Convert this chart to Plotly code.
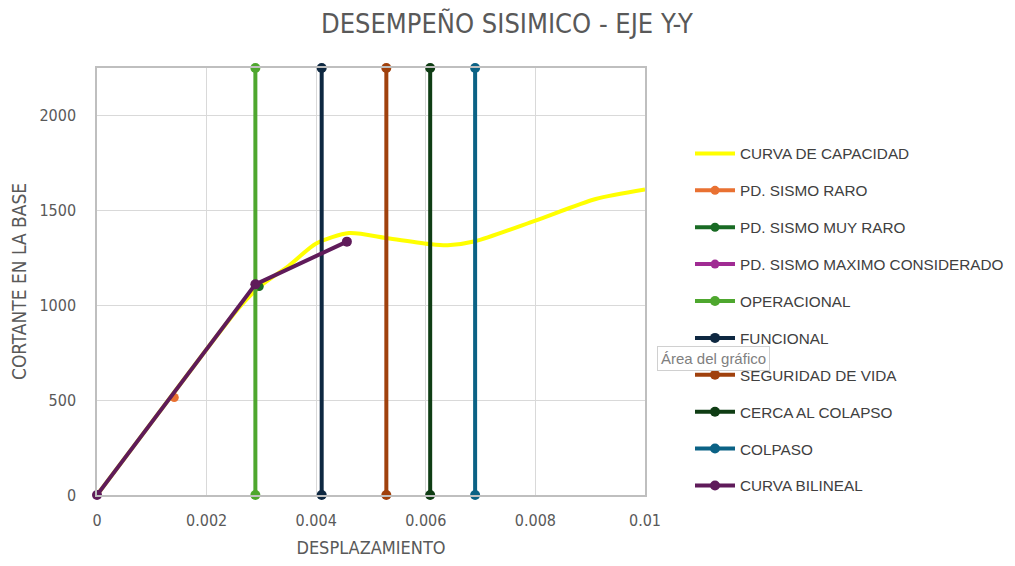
import plotly.graph_objects as go

# Capacity curve (pushover)
cap_x = [0, 0.001, 0.002, 0.0026, 0.003, 0.0035, 0.004, 0.0046, 0.0053, 0.0061, 0.0064, 0.0069, 0.008, 0.0091, 0.01]
cap_y = [0, 384, 768, 990, 1105, 1208, 1325, 1380, 1353, 1321, 1316, 1337, 1446, 1560, 1610]

# Performance points
raro_x, raro_y = [0.00141], [514]
muyraro_x, muyraro_y = [0.00296], [1098]
mce_x, mce_y = [0.00289], [1110]

# Performance levels (vertical lines)
level_names = ["OPERACIONAL", "FUNCIONAL", "SEGURIDAD DE VIDA", "CERCA AL COLAPSO", "COLPASO"]
level_x = [0.00289, 0.0041, 0.00528, 0.00608, 0.0069]
level_y = [0, 2250]

# Bilinear curve
bil_x = [0, 0.00289, 0.00456]
bil_y = [0, 1110, 1335]

x_ticks = [0, 0.002, 0.004, 0.006, 0.008, 0.01]
x_labels = ["0", "0.002", "0.004", "0.006", "0.008", "0.01"]
y_ticks = [0, 500, 1000, 1500, 2000]

level_colors = ["#4EA72E", "#0E2841", "#A0410D", "#0F3D14", "#0B6285"]

FONT = "Liberation Sans Narrow, DejaVu Sans Condensed, Arial Narrow, sans-serif"
LFONT = "Liberation Sans, Arial, sans-serif"

# page body has an 8px default margin; figure is laid out accordingly
OFF = 8
PL, PR, PT, PB = 97 - OFF, 645 - OFF, 68 - OFF, 495 - OFF

fig = go.Figure()
fig.add_trace(go.Scatter(x=cap_x, y=cap_y, mode="lines", name="CURVA DE CAPACIDAD",
                         line=dict(color="#FFFF00", width=4, shape="spline", smoothing=0.7),
                         legendgroup="a"))
fig.add_trace(go.Scatter(x=raro_x, y=raro_y, mode="lines+markers", name="PD. SISMO RARO",
                         line=dict(color="#E97132", width=4), marker=dict(size=9),
                         legendgroup="b"))
fig.add_trace(go.Scatter(x=muyraro_x, y=muyraro_y, mode="lines+markers", name="PD. SISMO MUY RARO",
                         line=dict(color="#196B24", width=4), marker=dict(size=9),
                         legendgroup="c"))
fig.add_trace(go.Scatter(x=mce_x, y=mce_y, mode="lines+markers", name="PD. SISMO MAXIMO CONSIDERADO",
                         line=dict(color="#A02B93", width=4), marker=dict(size=9),
                         legendgroup="d"))
for i, (nm, lx, col) in enumerate(zip(level_names, level_x, level_colors)):
    fig.add_trace(go.Scatter(x=[lx, lx], y=level_y, mode="lines+markers", name=nm,
                             line=dict(color=col, width=4), marker=dict(size=10),
                             legendgroup="l%d" % i, cliponaxis=False))
fig.add_trace(go.Scatter(x=bil_x, y=bil_y, mode="lines+markers", name="CURVA BILINEAL",
                         line=dict(color="#5F1B5A", width=4), marker=dict(size=10),
                         legendgroup="z", cliponaxis=False))

fig.update_layout(
    width=1015, height=566,
    margin=dict(l=PL, r=1015 - PR, t=PT, b=566 - PB, autoexpand=False),
    paper_bgcolor="white", plot_bgcolor="white",
    font=dict(family=FONT, size=15, color="#595959"),
    title=dict(text="DESEMPEÑO SISIMICO - EJE Y-Y", x=(507 - OFF) / 1015, xref="container",
               y=1 - (24 - OFF) / 566, yref="container", yanchor="middle", xanchor="center",
               font=dict(family=FONT, size=27, color="#595959")),
    showlegend=True,
    legend=dict(x=(690 - 97) / 548, y=(495 - 137) / 427, xanchor="left", yanchor="top",
                tracegroupgap=14,
                font=dict(family=LFONT, size=15.3, color="#404040"), bgcolor="rgba(0,0,0,0)",
                itemwidth=40),
    xaxis=dict(range=[0, 0.01], tickvals=x_ticks, ticktext=x_labels, showgrid=True,
               gridcolor="#D9D9D9", gridwidth=1, zeroline=False, showline=True,
               linecolor="#BFBFBF", linewidth=1.5, mirror=True, ticks="", ticklabelstandoff=10,
               tickfont=dict(size=16),
               title=dict(text="DESPLAZAMIENTO", standoff=12, font=dict(size=18, color="#595959"))),
    yaxis=dict(range=[0, 2250], tickvals=y_ticks, showgrid=True, gridcolor="#D9D9D9",
               gridwidth=1, zeroline=False, showline=True, linecolor="#BFBFBF", linewidth=1.5,
               mirror=True, ticks="", ticklabelstandoff=16, tickfont=dict(size=16),
               title=dict(text="CORTANTE EN LA BASE", standoff=10, font=dict(size=19, color="#595959"))),
)

fig.add_annotation(text="Área del gráfico", xref="paper", yref="paper",
                   x=(657 - 97) / 548, y=(495 - 358) / 427, xanchor="left", yanchor="middle",
                   showarrow=False, font=dict(family=LFONT, size=15, color="#808080"),
                   bgcolor="white", bordercolor="#D0D0D0", borderwidth=1, borderpad=3)

fig.write_html("out.html")
